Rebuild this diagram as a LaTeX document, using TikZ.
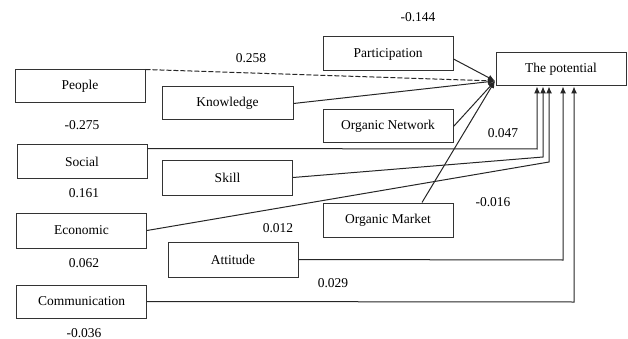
\documentclass[tikz,border=0pt]{standalone}
\usepackage{fontspec}
\setmainfont{Liberation Serif}
\usetikzlibrary{arrows.meta, positioning}

\begin{document}
\begin{tikzpicture}[
  x=1pt, y=-1pt,
  >={Latex[length=7pt,width=6pt]},
  font=\fontsize{13.5}{15}\selectfont,
  box/.style={
    rectangle,
    draw=black!80, line width=1pt,
    minimum width=130pt, minimum height=33pt,
    inner sep=0pt
  },
  arrow/.style={->, draw=black!85, line width=1pt},
  coef/.style={inner sep=0pt}
]
\useasboundingbox (0,0) rectangle (628,339);

% Boxes
\node[box] (potential) at (561,69.5) {The potential};
\node[box] (people) at (80,86.5) {People};
\node[box, minimum width=131pt] (knowledge) at (227.5,103.5) {Knowledge};
\node[box, minimum height=34pt] (participation) at (388,54) {Participation};
\node[box] (orgnet) at (388,126.5) {Organic Network};
\node[box] (social) at (82,161.5) {Social};
\node[box, minimum height=35pt] (skill) at (227.5,177.5) {Skill};
\node[box, minimum height=35pt] (economic) at (81.5,230.5) {Economic};
\node[box, minimum height=34pt] (orgmarket) at (388,220) {Organic Market};
\node[box, minimum height=35pt] (attitude) at (233,259.5) {Attitude};
\node[box] (communication) at (81.5,301.5) {Communication};

% Coefficients
\node[coef] (c1) at (418,17) {-0.144};
\node[coef] (c2) at (251,58) {0.258};
\node[coef] (c3) at (82,125) {-0.275};
\node[coef] (c4) at (84,193) {0.161};
\node[coef] (c5) at (503,133) {0.047};
\node[coef] (c6) at (493,202) {-0.016};
\node[coef] (c7) at (278,228) {0.012};
\node[coef] (c8) at (84,263) {0.062};
\node[coef] (c9) at (333,283) {0.029};
\node[coef] (c10) at (84,333) {-0.036};

% Junction points
\coordinate (hub) at (495,81);
\coordinate (b1) at (537,149);
\coordinate (b2) at (543,157);
\coordinate (b3) at (549,162);
\coordinate (b4) at (563,260);
\coordinate (b5) at (574,302);

% Arrows into the hub
\draw[arrow, dash pattern=on 5pt off 2pt] (people.north east) -- (hub);
\draw[arrow] (knowledge.east) -- (hub);
\draw[arrow] ([yshift=-5pt]participation.east) -- (hub);
\draw[arrow] (orgnet.east) -- (hub);
\draw[arrow] ([xshift=34pt]orgmarket.north) -- (hub);

% Arrows from below
\draw[arrow] ([yshift=-4pt]social.north east) -- (b1) -- (b1 |- potential.south);
\draw[arrow] (skill.east) -- (b2) -- (b2 |- potential.south);
\draw[arrow] (economic.east) -- (b3) -- (b3 |- potential.south);
\draw[arrow] (attitude.east) -- (b4) -- (b4 |- potential.south);
\draw[arrow] (communication.east) -- (b5) -- (b5 |- potential.south);

\end{tikzpicture}
\end{document}
